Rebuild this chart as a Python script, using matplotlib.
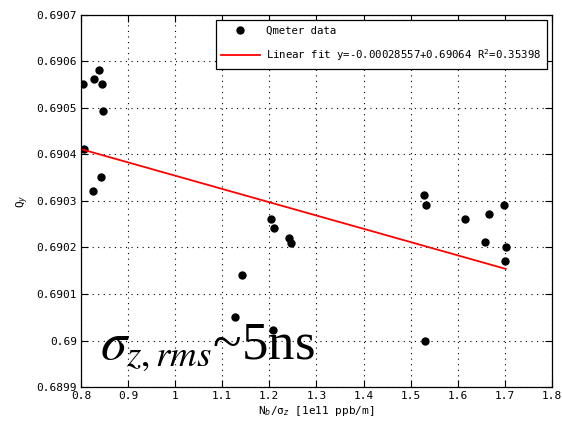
import numpy as np
import matplotlib
matplotlib.use('Agg')
from matplotlib import pyplot as plt

# Qmeter data
nb_sigma = [0.804, 0.806, 0.826, 0.828, 0.838, 0.8425, 0.845, 0.847,
            1.127, 1.1425, 1.203, 1.207, 1.210, 1.242, 1.247,
            1.528, 1.530, 1.5325, 1.616, 1.659, 1.666, 1.6996, 1.699, 1.702]
qy = [0.690552, 0.690412, 0.690322, 0.690563, 0.690581, 0.690352, 0.690551, 0.690493,
      0.690051, 0.690141, 0.690261, 0.690023, 0.690242, 0.690220, 0.690210,
      0.690312, 0.690000, 0.690292, 0.690261, 0.690211, 0.690273, 0.690172, 0.690292, 0.690202]

# linear fit coefficients as printed in the legend
FIT_SLOPE = -0.00028557
FIT_OFFSET = 0.69064
FIT_R2 = 0.35398

xticks = [0.8, 0.9, 1, 1.1, 1.2, 1.3, 1.4, 1.5, 1.6, 1.7, 1.8]
xticklabels = ['0.8', '0.9', '1', '1.1', '1.2', '1.3', '1.4', '1.5', '1.6', '1.7', '1.8']
yticks = [0.6899, 0.69, 0.6901, 0.6902, 0.6903, 0.6904, 0.6905, 0.6906, 0.6907]
yticklabels = ['0.6899', '0.69', '0.6901', '0.6902', '0.6903', '0.6904', '0.6905', '0.6906', '0.6907']

MONO = 'DejaVu Sans Mono'
FS = 8

fig = plt.figure(figsize=(5.62, 4.26), dpi=100)
ax = fig.add_axes([0.144, 0.0915, 0.838, 0.8735])

xfit = np.array([min(nb_sigma), max(nb_sigma)])
yfit = FIT_SLOPE * xfit + FIT_OFFSET

ax.plot(nb_sigma, qy, 'o', color='k', markersize=5, label='Qmeter data')
ax.plot(xfit, yfit, color='#ff0000', lw=1.3,
        label='Linear fit y=%.8f+%.5f R$^2$=%.5f' % (FIT_SLOPE, FIT_OFFSET, FIT_R2))

ax.set_xlim(0.8, 1.8)
ax.set_ylim(0.6899, 0.6907)
ax.set_xticks(xticks)
ax.set_xticklabels(xticklabels, family=MONO, fontsize=FS)
ax.set_yticks(yticks)
ax.set_yticklabels(yticklabels, family=MONO, fontsize=FS)
ax.tick_params(direction='in', top=True, right=True, length=5, width=0.8, pad=3)
ax.grid(True, color='k', linestyle=(0, (1, 4)), linewidth=0.8)
for s in ax.spines.values():
    s.set_linewidth(0.9)

ax.set_xlabel('N$_b$/σ$_z$ [1e11 ppb/m]', family=MONO, fontsize=FS, labelpad=2)
ax.set_ylabel('Q$_y$', family=MONO, fontsize=FS, labelpad=4)

leg = ax.legend(loc='upper right', prop={'family': MONO, 'size': 7.7},
                fancybox=False, edgecolor='k', framealpha=1,
                borderaxespad=0.5, handlelength=3.6, handletextpad=0.6,
                labelspacing=1.1, borderpad=0.5)
leg.get_frame().set_linewidth(0.9)

ax.text(0.04, 0.075, r'$\sigma_{z,rms}$~5ns', transform=ax.transAxes,
        family='Liberation Serif', math_fontfamily='stix', fontsize=38)

fig.savefig('out.png', dpi=100)
